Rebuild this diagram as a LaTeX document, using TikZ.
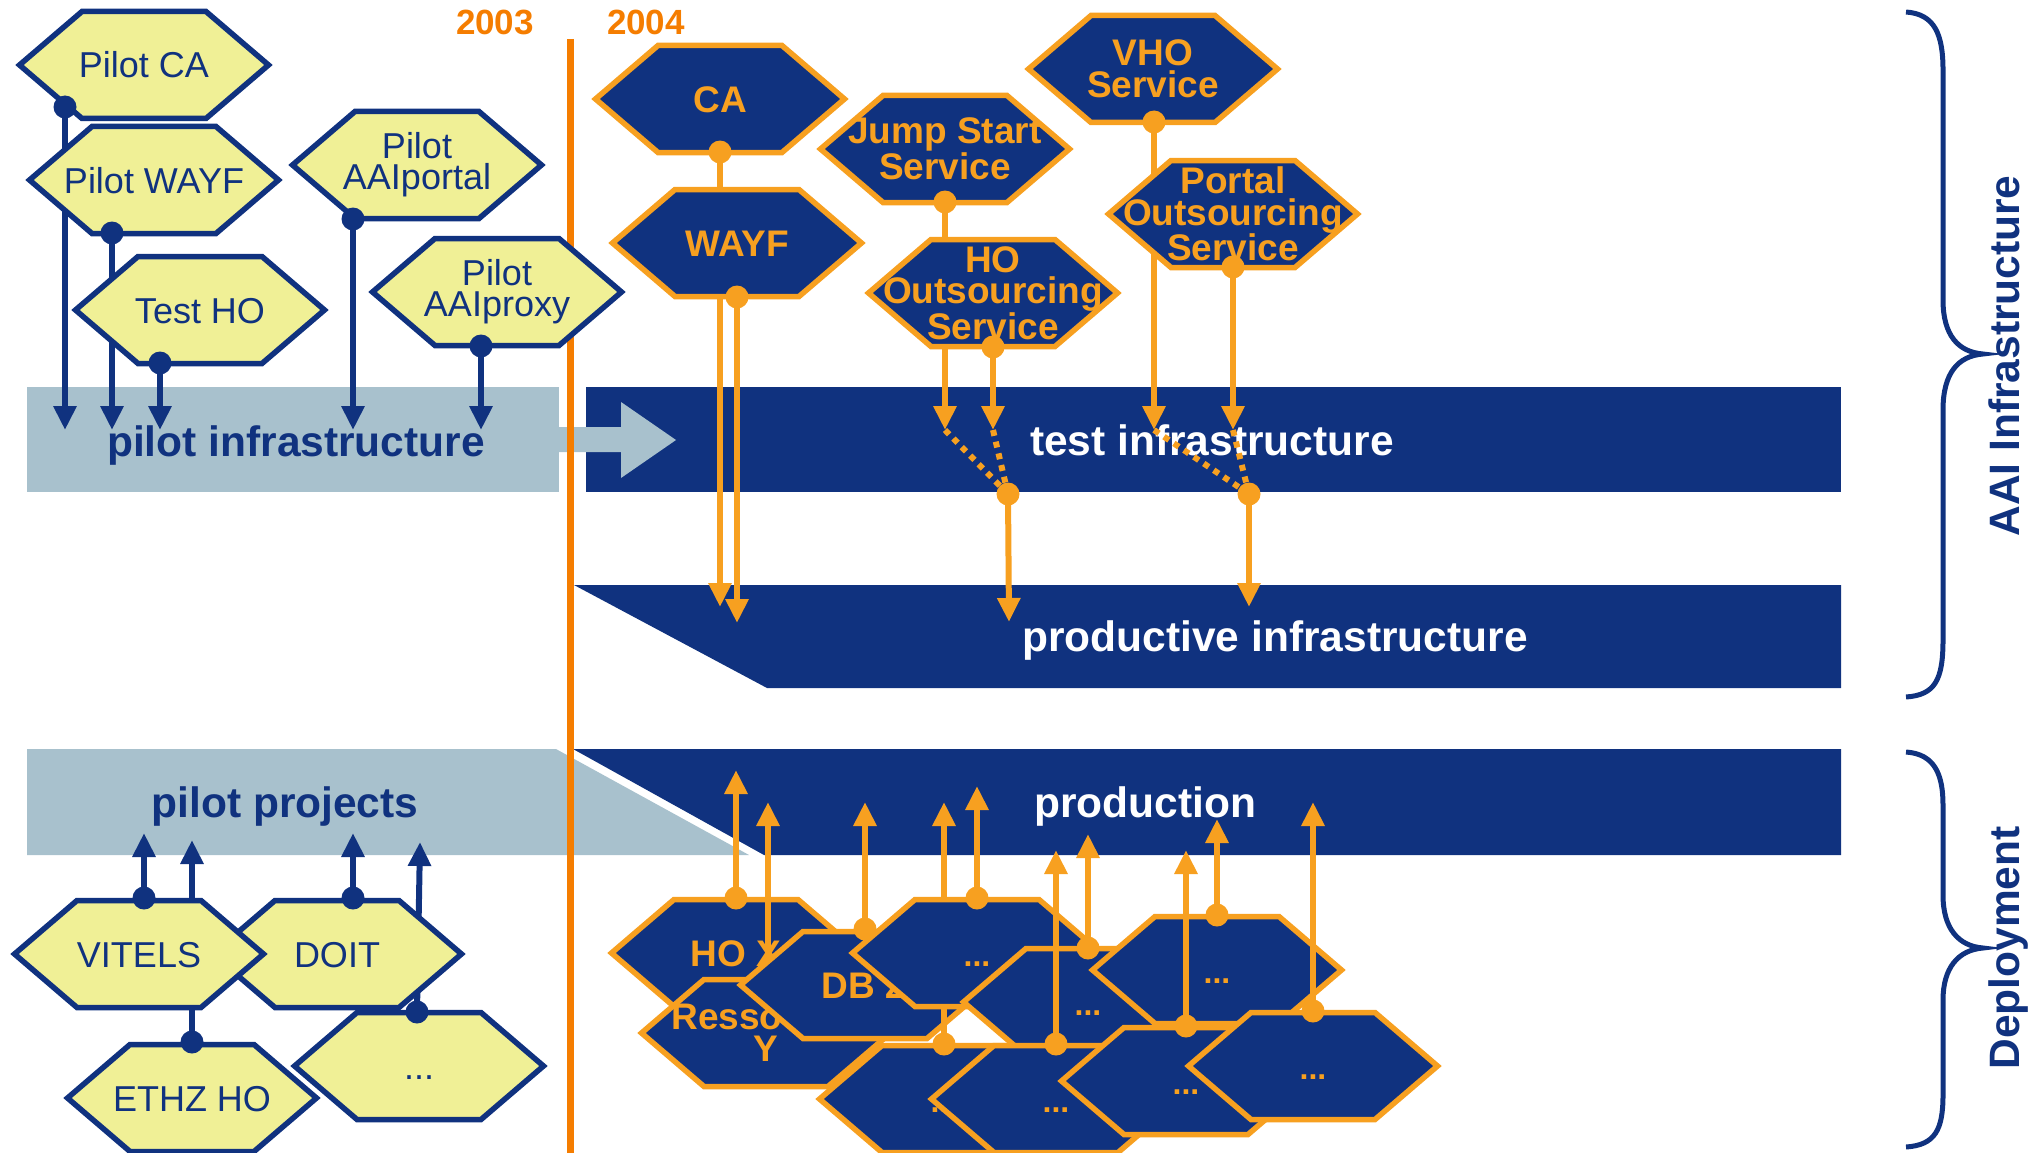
\documentclass[tikz,border=0pt]{standalone}
\usepackage{fontspec}
\setmainfont{Liberation Sans}
\usetikzlibrary{arrows.meta}
\definecolor{navy}{RGB}{16,50,127}
\definecolor{lblue}{RGB}{168,193,205}
\definecolor{hyellow}{RGB}{240,240,150}
\definecolor{horange}{RGB}{247,160,32}
\definecolor{yorange}{RGB}{245,125,0}
\newcommand\hexa[6]{%
  \path[#4] (#2,#3) ++(-124.5,0) -- ++(62.5,-53.5) -- ++(124,0) -- ++(62.5,53.5) -- ++(-62.5,53.5) -- ++(-124,0) -- cycle;
  \node[#5] (#1) at (#2,#3) {#6};}
\newcommand\navdot[1]{\fill[navy] (#1) circle[radius=11.5pt];}
\newcommand\orgdot[1]{\fill[horange] (#1) circle[radius=11.5pt];}
\begin{document}
\begin{tikzpicture}[x=1pt,y=-1pt,
  yhex/.style={fill=hyellow, draw=navy, line width=5.5pt},
  ohex/.style={fill=navy, draw=horange, line width=5.5pt},
  ytext/.style={text=navy, font=\fontsize{36}{31}\selectfont, align=center, inner sep=0pt},
  ytext1/.style={ytext, text height=26pt, text depth=0pt},
  otext/.style={text=horange, font=\bfseries\fontsize{37}{31.5}\selectfont, align=center, inner sep=0pt},
  otext1/.style={otext, text height=26.5pt, text depth=0pt},
  odots/.style={text=horange, font=\bfseries\fontsize{32}{32}\selectfont, inner sep=0pt, text height=26.5pt, text depth=0pt},
  narr/.style={draw=navy, line width=6pt, -{Triangle[width=22pt,length=24pt]}},
  oarr/.style={draw=horange, line width=6pt, -{Triangle[width=22pt,length=24pt]}},
  odotted/.style={draw=horange, line width=6pt, dash pattern=on 6pt off 6pt},
  boxlbl/.style={anchor=base, font=\bfseries\fontsize{42.5}{44}\selectfont, inner sep=0pt},
  yearlbl/.style={anchor=base, font=\bfseries\fontsize{35}{36}\selectfont, text=yorange, inner sep=0pt},
  sidelbl/.style={rotate=90, anchor=base, font=\bfseries\fontsize{42.5}{44}\selectfont, text=navy, inner sep=0pt},
  bracestyle/.style={draw=navy, line width=5pt}]
\useasboundingbox (0,0) rectangle (2044,1153);
% bands
\fill[lblue] (27,387) rectangle (559,492);
\fill[navy] (586,387) rectangle (1841,492);
\fill[navy] (574,585) -- (1841,585) -- (1841,688) -- (767,688) -- cycle;
\fill[navy] (573,749) -- (1841,749) -- (1841,855) -- (764,855) -- cycle;
\fill[lblue] (27,749) -- (556,749) -- (749,855) -- (27,855) -- cycle;
\fill[lblue] (559,427) -- (621,427) -- (621,402) -- (676,440) -- (621,478) -- (621,452) -- (559,452) -- cycle;
\draw[yorange, line width=7pt] (570.5,39) -- (570.5,1153);
\node[boxlbl, text=navy] (pinf) at (296,456) {pilot infrastructure};
\node[boxlbl, text=white] (tinf) at (1212,455) {test infrastructure};
\node[boxlbl, text=white] (pdinf) at (1275,651) {productive infrastructure};
\node[boxlbl, text=white] (prod) at (1145,817) {production};
\node[boxlbl, text=navy] (pproj) at (285,817) {pilot projects};
% years
\node[yearlbl] (y2003) at (495,35) {2003};
\node[yearlbl] (y2004) at (646,35) {2004};
% coordinates
\coordinate (pca-d) at (65,107);   \coordinate (pca-e) at (65,430);
\coordinate (pwayf-d) at (112,233); \coordinate (pwayf-e) at (112,430);
\coordinate (tho-d) at (160,363);  \coordinate (tho-e) at (160,430);
\coordinate (aaip-d) at (353,219); \coordinate (aaip-e) at (353,430);
\coordinate (aaix-d) at (481,346); \coordinate (aaix-e) at (481,430);
% yellow top
\hexa{pca}{144}{65}{yhex}{ytext1}{Pilot CA}
\draw[narr] (pca-d) -- (pca-e); \navdot{pca-d}
\hexa{pwayf}{154}{180}{yhex}{ytext1}{Pilot WAYF}
\draw[narr] (pwayf-d) -- (pwayf-e); \navdot{pwayf-d}
\hexa{tho}{200}{310}{yhex}{ytext1}{Test HO}
\draw[narr] (tho-d) -- (tho-e); \navdot{tho-d}
\hexa{aaip}{417}{165}{yhex}{ytext}{Pilot\\AAIportal}
\draw[narr] (aaip-d) -- (aaip-e); \navdot{aaip-d}
\hexa{aaix}{497}{292}{yhex}{ytext}{Pilot\\AAIproxy}
\draw[narr] (aaix-d) -- (aaix-e); \navdot{aaix-d}
% orange top
\coordinate (ca-d) at (720,152);   \coordinate (ca-e) at (720,607);
\coordinate (wayf-d) at (737,297); \coordinate (wayf-e) at (737,623);
\coordinate (js-d) at (945,202);   \coordinate (js-e) at (945,430);
\coordinate (hoo-d) at (993,347);  \coordinate (hoo-e) at (993,430);
\coordinate (vho-d) at (1154,122); \coordinate (vho-e) at (1154,430);
\coordinate (pos-d) at (1233,267); \coordinate (pos-e) at (1233,430);
\coordinate (t1) at (1008,494); \coordinate (t1-e) at (1009,622);
\coordinate (t2) at (1249,494); \coordinate (t2-e) at (1249,607);
\hexa{ca}{720}{99}{ohex}{otext1}{CA}
\draw[oarr] (ca-d) -- (ca-e); \orgdot{ca-d}
\hexa{wayf}{737}{243}{ohex}{otext1}{WAYF}
\draw[oarr] (wayf-d) -- (wayf-e); \orgdot{wayf-d}
\hexa{js}{945}{149}{ohex}{otext}{Jump Start\\Service}
\draw[oarr] (js-d) -- (js-e); \orgdot{js-d}
\hexa{hoo}{993}{293}{ohex}{otext}{HO\\Outsourcing\\Service}
\draw[oarr] (hoo-d) -- (hoo-e); \orgdot{hoo-d}
\hexa{vho}{1153}{69}{ohex}{otext}{VHO\\Service}
\draw[oarr] (vho-d) -- (vho-e); \orgdot{vho-d}
\hexa{pos}{1233}{214}{ohex}{otext}{Portal\\Outsourcing\\Service}
\draw[oarr] (pos-d) -- (pos-e); \orgdot{pos-d}
\draw[odotted] (js-e) -- (t1);
\draw[odotted] (hoo-e) -- (t1);
\draw[odotted] (vho-e) -- (t2);
\draw[odotted] (pos-e) -- (t2);
\draw[oarr] (t1) -- (t1-e); \orgdot{t1}
\draw[oarr] (t2) -- (t2-e); \orgdot{t2}
% yellow bottom
\coordinate (ethz-d) at (192,1042); \coordinate (ethz-e) at (192,840);
\coordinate (ydots-d) at (417,1012); \coordinate (ydots-e) at (420,842);
\coordinate (doit-d) at (353,898);  \coordinate (doit-e) at (353,833);
\coordinate (vitels-d) at (144,898); \coordinate (vitels-e) at (144,833);
\hexa{ethz}{192}{1098}{yhex}{ytext1}{ETHZ HO}
\draw[narr] (ethz-d) -- (ethz-e); \navdot{ethz-d}
\hexa{ydots}{419}{1066}{yhex}{ytext1}{...}
\draw[narr] (ydots-d) -- (ydots-e); \navdot{ydots-d}
\hexa{doit}{337}{954}{yhex}{ytext1}{DOIT}
\draw[narr] (doit-d) -- (doit-e); \navdot{doit-d}
\hexa{vitels}{139}{954}{yhex}{ytext1}{VITELS}
\draw[narr] (vitels-d) -- (vitels-e); \navdot{vitels-d}
% orange bottom
\coordinate (bho-d) at (736,898);  \coordinate (bho-e) at (736,770);
\coordinate (res-d) at (768,978);  \coordinate (res-e) at (768,802);
\coordinate (db-d) at (865,929);   \coordinate (db-e) at (865,802);
\coordinate (bg-d) at (944,1044);  \coordinate (bg-e) at (944,802);
\coordinate (be-d) at (977,898);   \coordinate (be-e) at (977,786);
\coordinate (bf-d) at (1088,948);  \coordinate (bf-e) at (1088,834);
\coordinate (bk-d) at (1056,1044); \coordinate (bk-e) at (1056,850);
\coordinate (bh-d) at (1217,915);  \coordinate (bh-e) at (1217,819);
\coordinate (bi-d) at (1186,1026); \coordinate (bi-e) at (1186,850);
\coordinate (bj-d) at (1313,1011); \coordinate (bj-e) at (1313,802);
\hexa{bho}{736}{953}{ohex}{otext1}{HO X}
\draw[oarr] (bho-d) -- (bho-e); \orgdot{bho-d}
\hexa{res}{766}{1033}{ohex}{otext}{Ressource\\Y}
\draw[oarr] (res-d) -- (res-e); \orgdot{res-d}
\hexa{db}{865}{985}{ohex}{otext1}{DB Z}
\draw[oarr] (db-d) -- (db-e); \orgdot{db-d}
\hexa{bg}{944}{1099}{ohex}{odots}{...}
\draw[oarr] (bg-d) -- (bg-e); \orgdot{bg-d}
\hexa{be}{977}{953}{ohex}{odots}{...}
\draw[oarr] (be-d) -- (be-e); \orgdot{be-d}
\hexa{bf}{1088}{1002}{ohex}{odots}{...}
\draw[oarr] (bf-d) -- (bf-e); \orgdot{bf-d}
\hexa{bk}{1056}{1099}{ohex}{odots}{...}
\draw[oarr] (bk-d) -- (bk-e); \orgdot{bk-d}
\hexa{bh}{1217}{970}{ohex}{odots}{...}
\draw[oarr] (bh-d) -- (bh-e); \orgdot{bh-d}
\hexa{bi}{1186}{1081}{ohex}{odots}{...}
\draw[oarr] (bi-d) -- (bi-e); \orgdot{bi-d}
\hexa{bj}{1313}{1066}{ohex}{odots}{...}
\draw[oarr] (bj-d) -- (bj-e); \orgdot{bj-d}
% braces
\draw[bracestyle] (1906,12) .. controls (1935,14) and (1943,35) .. (1943,70) -- (1943,300)
  .. controls (1943,335) and (1958,352) .. (1983,354) .. controls (1958,356) and (1943,373) .. (1943,410)
  -- (1943,640) .. controls (1943,680) and (1935,695) .. (1906,697);
\draw[bracestyle] (1906,752) .. controls (1935,754) and (1943,775) .. (1943,805) -- (1943,895)
  .. controls (1943,928) and (1958,946) .. (1983,948) .. controls (1958,950) and (1943,968) .. (1943,1000)
  -- (1943,1095) .. controls (1943,1130) and (1935,1145) .. (1906,1147);
\node[sidelbl] (aai) at (2019,356) {AAI Infrastructure};
\node[sidelbl] (depl) at (2019,948) {Deployment};
\end{tikzpicture}
\end{document}
